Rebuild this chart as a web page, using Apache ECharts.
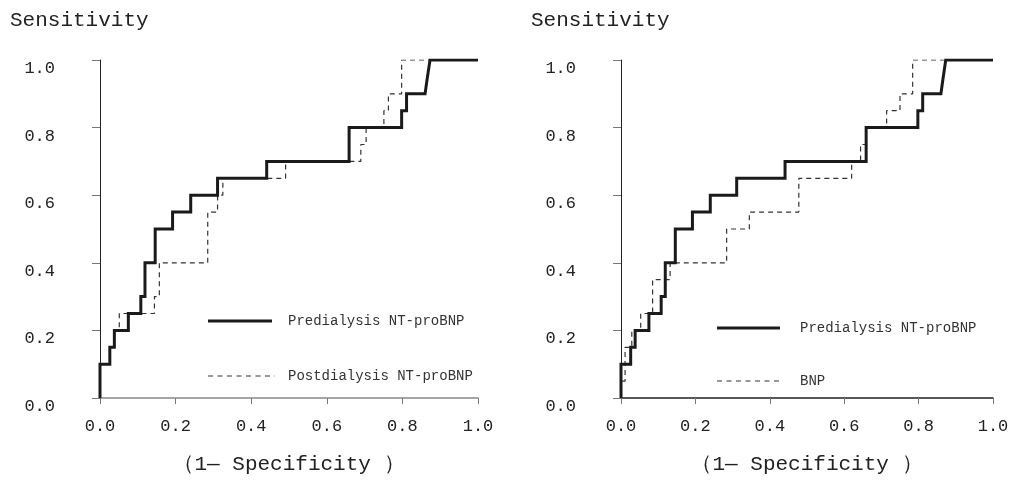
<!DOCTYPE html>
<html>
<head>
<meta charset="utf-8">
<script src="https://cdn.jsdelivr.net/npm/echarts@6/dist/echarts.min.js"></script>
<style>
    html, body { margin: 0; padding: 0; background: #fff; }
    #chart { width: 1020px; height: 480px; }
</style>
</head>
<body>
<div id="chart"></div>
<script>
// 坐标刻度
const xTicks = [0, 0.2, 0.4, 0.6, 0.8, 1.0]
const yTicks = [0, 0.2, 0.4, 0.6, 0.8, 1.0]

// Predialysis NT-proBNP (两图相同)
const preFpr = [0, 0, 0.026, 0.026, 0.038, 0.038, 0.075, 0.075, 0.108, 0.108, 0.119, 0.119, 0.146, 0.146, 0.192, 0.192, 0.24, 0.24, 0.311, 0.311, 0.441, 0.441, 0.659, 0.659, 0.798, 0.798, 0.811, 0.811, 0.86, 0.865, 0.873, 1.0]
const preTpr = [0, 0.1, 0.1, 0.15, 0.15, 0.2, 0.2, 0.25, 0.25, 0.3, 0.3, 0.4, 0.4, 0.5, 0.5, 0.55, 0.55, 0.6, 0.6, 0.65, 0.65, 0.7, 0.7, 0.8, 0.8, 0.85, 0.85, 0.9, 0.9, 0.94, 1.0, 1.0]

// Postdialysis NT-proBNP
const postFpr = [0, 0, 0.026, 0.026, 0.038, 0.038, 0.051, 0.051, 0.144, 0.144, 0.157, 0.157, 0.285, 0.285, 0.311, 0.311, 0.325, 0.325, 0.491, 0.491, 0.69, 0.69, 0.704, 0.704, 0.751, 0.751, 0.763, 0.763, 0.798, 0.798, 1.0]
const postTpr = [0, 0.1, 0.1, 0.15, 0.15, 0.2, 0.2, 0.25, 0.25, 0.3, 0.3, 0.4, 0.4, 0.55, 0.55, 0.6, 0.6, 0.65, 0.65, 0.7, 0.7, 0.75, 0.75, 0.8, 0.8, 0.85, 0.85, 0.9, 0.9, 1.0, 1.0]

// BNP
const bnpFpr = [0, 0, 0.011, 0.011, 0.029, 0.029, 0.053, 0.053, 0.085, 0.085, 0.132, 0.132, 0.284, 0.284, 0.345, 0.345, 0.478, 0.478, 0.62, 0.62, 0.644, 0.644, 0.659, 0.659, 0.714, 0.714, 0.75, 0.75, 0.784, 0.784, 1.0]
const bnpTpr = [0, 0.05, 0.05, 0.15, 0.15, 0.2, 0.2, 0.25, 0.25, 0.35, 0.35, 0.4, 0.4, 0.5, 0.5, 0.55, 0.55, 0.65, 0.65, 0.7, 0.7, 0.75, 0.75, 0.8, 0.8, 0.85, 0.85, 0.9, 0.9, 1.0, 1.0]

const FONT = "'Liberation Mono', 'DejaVu Sans Mono', monospace"
const TEXT_COLOR = "#222"

function zip(xs, ys) {
    return xs.map((x, i) => [x, ys[i]])
}

function makeXAxis(gridIndex, lineColor) {
    return {
        type: "value",
        gridIndex: gridIndex,
        min: xTicks[0],
        max: xTicks[xTicks.length - 1],
        interval: 0.2,
        axisLine: { show: true, onZero: false, lineStyle: { color: lineColor, width: 1.5 } },
        axisTick: { show: true, length: 6, lineStyle: { color: "#777" } },
        splitLine: { show: false },
        axisLabel: {
            margin: 20,
            fontFamily: FONT,
            fontSize: 17,
            color: TEXT_COLOR,
            formatter: v => v.toFixed(1),
        },
        name: "（1— Specificity ）",
        nameLocation: "middle",
        nameGap: 56,
        nameTextStyle: { fontFamily: FONT, fontSize: 21, color: TEXT_COLOR },
    }
}

function makeYAxis(gridIndex) {
    return {
        type: "value",
        gridIndex: gridIndex,
        min: yTicks[0],
        max: yTicks[yTicks.length - 1],
        interval: 0.2,
        axisLine: { show: true, onZero: false, lineStyle: { color: "#222", width: 1 } },
        axisTick: { show: true, length: 8, lineStyle: { color: "#777" } },
        splitLine: { show: false },
        axisLabel: {
            margin: 45,
            fontFamily: FONT,
            fontSize: 17,
            color: TEXT_COLOR,
            verticalAlign: "top",
            formatter: v => v.toFixed(1),
        },
    }
}

function solidSeries(idx, data) {
    return {
        type: "line",
        xAxisIndex: idx,
        yAxisIndex: idx,
        data: data,
        showSymbol: false,
        z: 3,
        lineStyle: { color: "#1a1a1a", width: 3, join: "miter" },
    }
}

function dashedSeries(idx, data) {
    return {
        type: "line",
        xAxisIndex: idx,
        yAxisIndex: idx,
        data: data,
        showSymbol: false,
        z: 2,
        lineStyle: { color: "#333", width: 1.2, type: [5, 4] },
    }
}

// 图例用 graphic 画
function legendItems(x1, x2, ySolid, yDash, textX, solidText, dashText) {
    return [
        { type: "line", shape: { x1: x1, y1: ySolid, x2: x2, y2: ySolid }, style: { stroke: "#1a1a1a", lineWidth: 3 } },
        { type: "text", x: textX, y: ySolid, style: { text: solidText, font: "14px " + FONT, fill: "#333", verticalAlign: "middle" } },
        { type: "line", shape: { x1: x1, y1: yDash, x2: x2 + 3, y2: yDash }, style: { stroke: "#333", lineWidth: 1.2, lineDash: [5, 4.5] } },
        { type: "text", x: textX, y: yDash, style: { text: dashText, font: "14px " + FONT, fill: "#333", verticalAlign: "middle" } },
    ]
}

const myChart = echarts.init(document.getElementById("chart"), null, { renderer: "canvas" })
myChart.setOption({
    animation: false,
    backgroundColor: "#fff",
    grid: [
        { left: 100, right: 542, top: 60, bottom: 77, containLabel: false },
        { left: 621, right: 27, top: 60, bottom: 77, containLabel: false },
    ],
    xAxis: [makeXAxis(0, "#888"), makeXAxis(1, "#222")],
    yAxis: [makeYAxis(0), makeYAxis(1)],
    series: [
        dashedSeries(0, zip(postFpr, postTpr)),
        solidSeries(0, zip(preFpr, preTpr)),
        dashedSeries(1, zip(bnpFpr, bnpTpr)),
        solidSeries(1, zip(preFpr, preTpr)),
    ],
    graphic: [
        { type: "text", x: 10, y: 20, style: { text: "Sensitivity", font: "21px " + FONT, fill: TEXT_COLOR, verticalAlign: "middle" } },
        { type: "text", x: 531, y: 20, style: { text: "Sensitivity", font: "21px " + FONT, fill: TEXT_COLOR, verticalAlign: "middle" } },
        ...legendItems(208, 272, 321, 376, 288, "Predialysis NT-proBNP", "Postdialysis NT-proBNP"),
        ...legendItems(717, 780, 328, 381, 800, "Predialysis NT-proBNP", "BNP"),
    ],
})
window.addEventListener("resize", function () {
    myChart.resize()
})
</script>
</body>
</html>
